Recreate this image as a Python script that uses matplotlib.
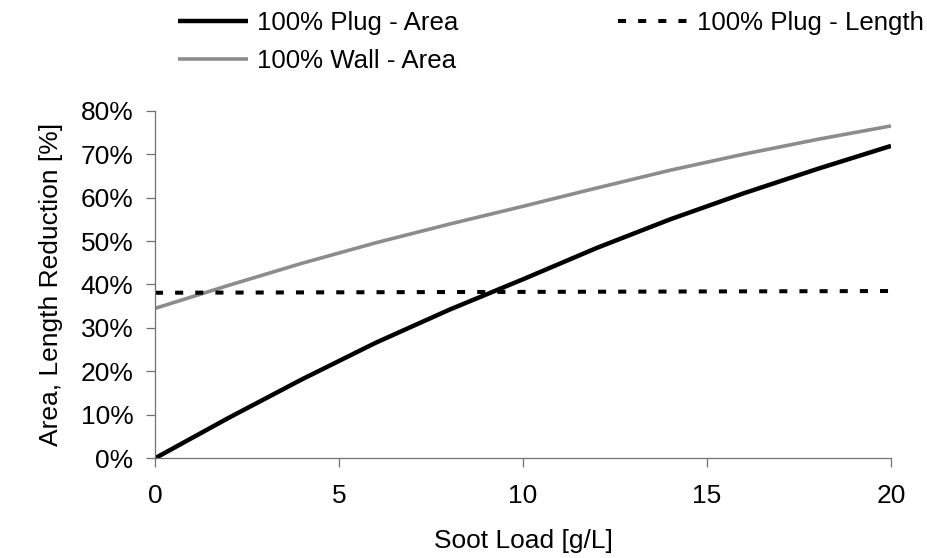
import numpy as np
import matplotlib
matplotlib.use("Agg")
import matplotlib.pyplot as plt
from matplotlib.ticker import FuncFormatter

plt.rcParams['font.family'] = ['Liberation Sans', 'DejaVu Sans']

# soot load [g/L]
soot = [0, 2, 4, 6, 8, 10, 12, 14, 16, 18, 20]
# reduction in percent
plug_area = [0.0, 9.3, 18.2, 26.6, 34.2, 41.2, 48.4, 55.0, 61.0, 66.6, 71.9]
wall_area = [34.5, 39.8, 44.9, 49.6, 53.9, 58.0, 62.2, 66.3, 70.0, 73.4, 76.5]
length_soot = [0, 20]
plug_length = [38.1, 38.5]

x_ticks = [0, 5, 10, 15, 20]
y_ticks = [0, 10, 20, 30, 40, 50, 60, 70, 80]

fs = 19
fig = plt.figure(figsize=(9.27, 5.58), dpi=100)
ax = fig.add_axes([0.1672, 0.1787, 0.7940, 0.6229])

ax.plot(soot, plug_area, color='black', lw=3.2, label='100% Plug - Area',
        solid_capstyle='butt')
ax.plot(soot, wall_area, color='#8c8c8c', lw=2.6, label='100% Wall - Area',
        solid_capstyle='butt')
ax.plot(length_soot, plug_length, color='black', lw=2.9, dashes=(2, 3),
        label='100% Plug - Length', dash_capstyle='butt')

ax.set_xlim(0, 20)
ax.set_ylim(0, 80)
ax.set_xticks(x_ticks)
ax.set_yticks(y_ticks)
ax.yaxis.set_major_formatter(FuncFormatter(lambda v, p: '%d%%' % v))

for s in ['top', 'right']:
    ax.spines[s].set_visible(False)
for s in ['left', 'bottom']:
    ax.spines[s].set_color('#707070')
    ax.spines[s].set_linewidth(0.9)
ax.tick_params(axis='both', direction='out', length=6.5, width=0.9,
               color='#707070', labelsize=fs, labelcolor='black')
ax.tick_params(axis='y', pad=9)
ax.tick_params(axis='x', pad=12)

ax.set_xlabel('Soot Load [g/L]', fontsize=fs, labelpad=15)
ax.set_ylabel('Area, Length Reduction [%]', fontsize=fs, labelpad=13)

ax.legend(ncol=2, frameon=False, fontsize=18.6, loc='upper left',
          bbox_to_anchor=(178 / 927, 1 - 11 / 558), bbox_transform=fig.transFigure,
          borderpad=0, borderaxespad=0, handlelength=2.7, handletextpad=0.35,
          columnspacing=6.2, labelspacing=0.55)

fig.savefig('out.png', dpi=100)
